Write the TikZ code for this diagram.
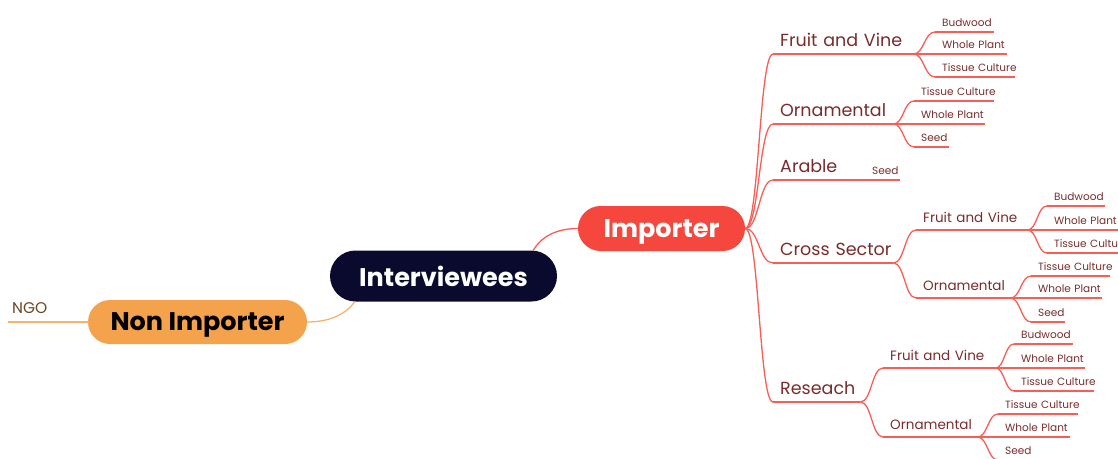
\documentclass[tikz,border=0pt]{standalone}
\usepackage{fontspec}
\setmainfont{Poppins}
\usetikzlibrary{calc}
\definecolor{navy}{HTML}{0A0A2E}
\definecolor{impred}{HTML}{F5473D}
\definecolor{nonorange}{HTML}{F4A24C}
\definecolor{linered}{HTML}{F85E55}
\definecolor{lineorange}{HTML}{F6B36B}
\definecolor{maroon}{HTML}{7A2B2B}
\definecolor{ngobrown}{HTML}{6E4322}
\begin{document}
\begin{tikzpicture}[x=1pt,y=-1pt,
  redline/.style={draw=linered, line width=1.3pt},
  orangeline/.style={draw=lineorange, line width=1.3pt},
  pill/.style={rectangle, inner sep=0pt, text depth=0pt,
     font=\bfseries\fontsize{25.5}{25.5}\selectfont},
  leaf/.style={anchor=south west, inner xsep=7pt, text depth=0pt, align=left, text=maroon,
     execute at begin node={\hbox\bgroup}, execute at end node={\egroup}},
  lvtwo/.style={leaf, inner ysep=7pt, font=\fontsize{17.5}{17.5}\selectfont},
  lvthree/.style={leaf, inner ysep=7pt, font=\fontsize{13.5}{13.5}\selectfont},
  lvfour/.style={leaf, inner ysep=5pt, font=\fontsize{10.5}{10.5}\selectfont},
  tw/.style={text width=#1pt},
  bough/.style={to path={let \p1=(\tikztostart), \p2=(\tikztotarget) in
     .. controls (\x1*0.5+\x2*0.5,\y1) and (\x1*0.5+\x2*0.5,\y2) .. (\tikztotarget)}}
]
\useasboundingbox (0,0) rectangle (1118,458);
\clip (0,0) rectangle (1118,458);

% central and first-level nodes
\node[pill, fill=navy, text=white, minimum width=227pt, minimum height=51pt,
      rounded corners=25.5pt] (intv) at (443.5,276) {Interviewees};
\node[pill, fill=impred, text=white, minimum width=167pt, minimum height=45pt,
      rounded corners=22.5pt] (imp) at (661.5,228.5) {Importer};
\node[pill, fill=nonorange, text=black, minimum width=219pt, minimum height=44pt,
      rounded corners=22pt] (noni) at (197.5,322) {Non Importer};
\node[leaf, text=ngobrown, inner xsep=4pt, inner ysep=8pt, tw=72,
      font=\fontsize{15.5}{15.5}\selectfont] (ngo) at (8,322) {NGO};

% importer sectors
\node[lvtwo, tw=126] (fvA) at (773,54)  {Fruit and Vine};
\node[lvtwo, tw=106] (orA) at (773,124) {Ornamental};
\node[lvtwo, tw=81]  (arA) at (773,180) {Arable};
\node[lvtwo, tw=106] (csA) at (773,263) {Cross Sector};
\node[lvtwo, tw=73]  (reA) at (773,402) {Reseach};

\node[lvfour, inner xsep=4pt, tw=24] (arS) at (868,180) {Seed};

% fruit and vine
\node[lvfour, tw=45] (fvA1) at (935,32) {Budwood};
\node[lvfour, tw=58] (fvA2) at (935,54) {Whole Plant};
\node[lvfour, tw=66] (fvA3) at (935,77) {Tissue Culture};
% ornamental
\node[lvfour, tw=66] (orA1) at (914,101) {Tissue Culture};
\node[lvfour, tw=57] (orA2) at (914,124) {Whole Plant};
\node[lvfour, tw=21] (orA3) at (914,147) {Seed};

% cross sector
\node[lvthree, tw=97] (csF) at (916,230) {Fruit and Vine};
\node[lvthree, tw=80] (csO) at (916,298) {Ornamental};
\node[lvfour, tw=44] (csF1) at (1047,206) {Budwood};
\node[lvfour, tw=64] (csF2) at (1047,230) {Whole Plant};
\node[lvfour, tw=69] (csF3) at (1047,253) {Tissue Culture};
\node[lvfour, tw=65] (csO1) at (1031,276) {Tissue Culture};
\node[lvfour, tw=57] (csO2) at (1031,298) {Whole Plant};
\node[lvfour, tw=20] (csO3) at (1031,322) {Seed};

% research
\node[lvthree, tw=98] (reF) at (883,368) {Fruit and Vine};
\node[lvthree, tw=80] (reO) at (883,437) {Ornamental};
\node[lvfour, tw=45] (reF1) at (1014,344) {Budwood};
\node[lvfour, tw=57] (reF2) at (1014,368) {Whole Plant};
\node[lvfour, tw=66] (reF3) at (1014,391) {Tissue Culture};
\node[lvfour, tw=66] (reO1) at (998,414) {Tissue Culture};
\node[lvfour, tw=58] (reO2) at (998,437) {Whole Plant};
\node[lvfour, tw=20] (reO3) at (998,460) {Seed};

% connectors between the central nodes
\draw[redline] ([xshift=-24pt]intv.north east)
   .. controls (541,237) and (556,228.5) .. (imp.west);
\draw[orangeline] ([xshift=25pt]intv.south west)
   .. controls (346,314) and (330,322) .. (noni.east);
\draw[orangeline] (noni.west) -- (ngo.south east);
\draw[orangeline] (ngo.south west) -- (ngo.south east);

% underlines of the branch labels
\foreach \n in {fvA,orA,arA,arS,csA,reA,fvA1,fvA2,fvA3,orA1,orA2,orA3,
                csF,csO,csF1,csF2,csF3,csO1,csO2,csO3,
                reF,reO,reF1,reF2,reF3,reO1,reO2,reO3}
  \draw[redline] (\n.south west) -- (\n.south east);

% branches out of the importer node
\foreach \c in {fvA,orA,arA,csA,reA}
  \draw[redline] (imp.east) to[bough] (\c.south west);

% deeper branches
\draw[redline] (arA.south east) -- (arS.south west);
\foreach \p/\c in {fvA/fvA1,fvA/fvA2,fvA/fvA3,orA/orA1,orA/orA2,orA/orA3,
                   csA/csF,csA/csO,csF/csF1,csF/csF2,csF/csF3,
                   csO/csO1,csO/csO2,csO/csO3,
                   reA/reF,reA/reO,reF/reF1,reF/reF2,reF/reF3,
                   reO/reO1,reO/reO2,reO/reO3}
  \draw[redline] (\p.south east) to[bough] (\c.south west);
\end{tikzpicture}
\end{document}
